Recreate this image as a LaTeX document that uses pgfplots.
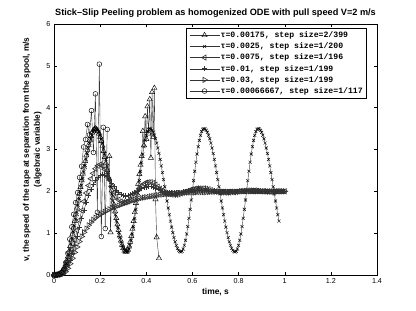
\documentclass[border=0pt]{standalone}
\usepackage{fontspec}
\setmainfont{Liberation Sans}
\setmonofont{Liberation Mono}
\usepackage{pgfplots}
\pgfplotsset{compat=1.18}
\begin{document}
\begin{tikzpicture}
\path[use as bounding box] (-54bp,-36bp) rectangle (362bp,275bp);
\begin{axis}[
  at={(0,0)}, anchor=south west,
  scale only axis, width=323bp, height=251bp,
  xmin=0, xmax=1.4, ymin=0, ymax=6,
  xtick={0,0.2,0.4,0.6,0.8,1,1.2,1.4},
  xticklabels={0,0.2,0.4,0.6,0.8,1,1.2,1.4},
  ytick={0,1,2,3,4,5,6},
  tick align=inside, major tick length=3bp,
  xtick pos=both, ytick pos=both,
  xticklabel pos=bottom, yticklabel pos=left,
  axis line style={line width=0.5pt},
  tick style={line width=0.4pt, black},
  tick label style={font=\fontsize{7.2}{8}\selectfont},
  /pgf/number format/assume math mode=true,
  title={Stick–Slip Peeling problem as homogenized ODE with pull speed V=2 m/s},
  title style={font=\fontsize{9.2}{10}\selectfont\bfseries, yshift=-3bp},
  xlabel={time, s},
  xlabel style={font=\fontsize{8.5}{9}\selectfont\bfseries, yshift=2bp},
  ylabel={v, the speed of the tape at separation from the spool, m/s\\(algebraic variable)},
  ylabel style={font=\fontsize{8.3}{11}\selectfont\bfseries, align=center, yshift=-2bp},
  legend style={at={(rel axis cs:0.409,0.984)}, anchor=north west, draw=black, line width=0.5pt,
    font=\fontsize{8.2}{9}\selectfont\ttfamily\bfseries, row sep=1.2bp,
    nodes={inner sep=0.9pt, text height=6.4pt, text depth=1.8pt}},
  legend cell align=left,
  legend image code/.code={\draw[mark repeat=2,mark phase=2,#1] plot coordinates {(0bp,0bp) (15bp,0bp) (30bp,0bp)};},
  every axis plot/.append style={line width=0.4pt, black!80, mark size=3bp, mark options={solid, line width=0.45pt, black}},
]
% tau=0.00175, triangles
\addplot[mark=triangle] coordinates {
(0,0)(0.005,0)(0.01,0.002)(0.015,0.007)(0.02,0.015)(0.025,0.03)(0.03,0.05)(0.035,0.08)(0.04,0.12)(0.045,0.18)
(0.05,0.25)(0.055,0.34)(0.06,0.44)(0.065,0.56)(0.07,0.69)(0.075,0.83)(0.08,0.98)(0.085,1.13)(0.09,1.29)(0.095,1.45)
(0.1,1.61)(0.105,1.78)(0.11,1.94)(0.115,2.1)(0.12,2.26)(0.125,2.42)(0.13,2.57)(0.135,2.72)(0.14,2.86)(0.145,2.99)
(0.15,3.11)(0.155,3.22)(0.16,3.32)(0.165,3.4)(0.17,3.46)(0.175,3.49)(0.18,3.5)(0.185,3.48)(0.19,3.44)(0.195,3.38)
(0.2,3.3)(0.205,3.2)(0.21,3.09)(0.215,2.96)(0.22,2.82)(0.225,2.67)(0.23,2.51)(0.235,2.35)(0.24,2.84)(0.245,1.02)
(0.25,2.02)(0.255,1.85)(0.26,1.68)(0.265,1.52)(0.27,1.36)(0.275,1.21)(0.28,1.07)(0.285,0.94)(0.29,0.82)(0.295,0.72)
(0.3,0.64)(0.305,0.58)(0.31,0.55)(0.315,0.56)(0.32,0.6)(0.325,0.68)(0.33,0.79)(0.335,0.93)(0.34,1.1)(0.345,1.29)
(0.35,1.5)(0.355,1.72)(0.36,1.95)(0.365,2.18)(0.37,2.41)(0.375,2.63)(0.38,2.84)(0.385,3.44)(0.39,3.1)(0.395,3.79)
(0.4,3.25)(0.405,4.03)(0.41,3.38)(0.415,4.2)(0.42,2.8)(0.425,4.37)(0.43,3.3)(0.435,4.47)(0.44,1.81)(0.445,0.9)(0.455,0.4)};
\addlegendentry{τ=0.00175, step size=2/399}
% tau=0.0025, x marks
\addplot[mark=x, mark size=2.1bp] coordinates {
(0,0)(0.005,0)(0.01,0)(0.015,0.005)(0.02,0.01)(0.025,0.02)(0.03,0.035)(0.035,0.06)(0.04,0.09)(0.045,0.14)
(0.05,0.2)(0.055,0.28)(0.06,0.37)(0.065,0.48)(0.07,0.6)(0.075,0.74)(0.08,0.88)(0.085,1.03)(0.09,1.18)(0.095,1.34)
(0.1,1.5)(0.105,1.67)(0.11,1.83)(0.115,1.99)(0.12,2.15)(0.125,2.31)(0.13,2.47)(0.135,2.62)(0.14,2.77)(0.145,2.9)
(0.15,3.03)(0.155,3.15)(0.16,3.25)(0.165,3.34)(0.17,3.42)(0.175,3.47)
(0.18,3.500)(0.185,3.490)(0.19,3.460)(0.195,3.411)(0.2,3.343)(0.205,3.257)(0.21,3.155)(0.215,3.037)(0.22,2.906)(0.225,2.763)
(0.23,2.609)(0.235,2.448)(0.24,2.281)(0.245,2.111)(0.25,1.939)(0.255,1.769)(0.26,1.602)(0.265,1.441)(0.27,1.288)(0.275,1.144)
(0.28,1.013)(0.285,0.895)(0.29,0.793)(0.295,0.707)(0.3,0.639)(0.305,0.590)(0.31,0.560)(0.315,0.550)(0.32,0.568)(0.325,0.622)
(0.33,0.711)(0.335,0.832)(0.34,0.982)(0.345,1.158)(0.35,1.355)(0.355,1.569)(0.36,1.794)(0.365,2.025)(0.37,2.256)(0.375,2.481)
(0.38,2.695)(0.385,2.892)(0.39,3.068)(0.395,3.218)(0.4,3.339)(0.405,3.428)(0.41,3.482)
(0.415,3.500)(0.42,3.490)(0.425,3.460)(0.43,3.411)(0.435,3.343)(0.44,3.257)(0.445,3.155)(0.45,3.037)(0.455,2.906)(0.46,2.763)
(0.465,2.609)(0.47,2.448)(0.475,2.281)(0.48,2.111)(0.485,1.939)(0.49,1.769)(0.495,1.602)(0.5,1.441)(0.505,1.288)(0.51,1.144)
(0.515,1.013)(0.52,0.895)(0.525,0.793)(0.53,0.707)(0.535,0.639)(0.54,0.590)(0.545,0.560)(0.55,0.550)(0.555,0.568)(0.56,0.622)
(0.565,0.711)(0.57,0.832)(0.575,0.982)(0.58,1.158)(0.585,1.355)(0.59,1.569)(0.595,1.794)(0.6,2.025)(0.605,2.256)(0.61,2.481)
(0.615,2.695)(0.62,2.892)(0.625,3.068)(0.63,3.218)(0.635,3.339)(0.64,3.428)(0.645,3.482)
(0.65,3.500)(0.655,3.490)(0.66,3.460)(0.665,3.411)(0.67,3.343)(0.675,3.257)(0.68,3.155)(0.685,3.037)(0.69,2.906)(0.695,2.763)
(0.7,2.609)(0.705,2.448)(0.71,2.281)(0.715,2.111)(0.72,1.939)(0.725,1.769)(0.73,1.602)(0.735,1.441)(0.74,1.288)(0.745,1.144)
(0.75,1.013)(0.755,0.895)(0.76,0.793)(0.765,0.707)(0.77,0.639)(0.775,0.590)(0.78,0.560)(0.785,0.550)(0.79,0.568)(0.795,0.622)
(0.8,0.711)(0.805,0.832)(0.81,0.982)(0.815,1.158)(0.82,1.355)(0.825,1.569)(0.83,1.794)(0.835,2.025)(0.84,2.256)(0.845,2.481)
(0.85,2.695)(0.855,2.892)(0.86,3.068)(0.865,3.218)(0.87,3.339)(0.875,3.428)(0.88,3.482)
(0.885,3.500)(0.89,3.490)(0.895,3.460)(0.9,3.411)(0.905,3.343)(0.91,3.257)(0.915,3.155)(0.92,3.037)(0.925,2.906)(0.93,2.763)
(0.935,2.609)(0.94,2.448)(0.945,2.281)(0.95,2.111)(0.955,1.939)(0.96,1.769)(0.965,1.602)(0.97,1.441)(0.975,1.288)};
\addlegendentry{τ=0.0025, step size=1/200}
% tau=0.0075, left triangles
\addplot[mark=triangle, mark options={rotate=90, line width=0.6pt}] coordinates {
(0,0)(0.01,0)(0.02,0.01)(0.03,0.03)(0.04,0.07)(0.05,0.15)(0.06,0.27)(0.07,0.43)(0.08,0.62)(0.09,0.84)
(0.1,1.07)(0.11,1.31)(0.12,1.54)(0.13,1.76)(0.14,1.96)(0.15,2.14)(0.16,2.3)(0.17,2.43)(0.18,2.54)(0.19,2.61)
(0.2,2.64)(0.21,2.61)(0.22,2.53)(0.23,2.41)(0.24,2.27)(0.25,2.12)(0.26,1.98)(0.27,1.87)(0.28,1.8)(0.29,1.76)
(0.3,1.74)(0.31,1.74)(0.32,1.76)(0.33,1.8)(0.34,1.86)(0.35,1.93)(0.36,2.0)(0.37,2.07)(0.38,2.13)(0.39,2.18)
(0.4,2.21)(0.41,2.22)(0.42,2.22)(0.43,2.2)(0.44,2.16)(0.45,2.11)(0.46,2.06)(0.47,2.01)(0.48,1.97)(0.49,1.94)
(0.5,1.93)(0.51,1.92)(0.52,1.92)(0.53,1.92)(0.54,1.93)(0.55,1.95)(0.56,1.97)(0.57,1.99)(0.58,2.01)(0.59,2.03)
(0.6,2.05)(0.61,2.06)(0.62,2.07)(0.63,2.07)(0.64,2.07)(0.65,2.07)(0.66,2.06)(0.67,2.05)(0.68,2.03)(0.69,2.01)
(0.7,2.0)(0.71,1.99)(0.72,1.98)(0.73,1.97)(0.74,1.97)(0.75,1.97)(0.76,1.97)(0.77,1.98)(0.78,1.98)(0.79,1.99)
(0.8,2.0)(0.81,2.01)(0.82,2.01)(0.83,2.02)(0.84,2.02)(0.85,2.02)(0.86,2.02)(0.87,2.02)(0.88,2.01)(0.89,2.01)
(0.9,2.0)(0.91,2.0)(0.92,1.99)(0.93,1.99)(0.94,1.99)(0.95,1.99)(0.96,2.0)(0.97,2.0)(0.98,2.0)(0.99,2.0)(1.0,2.0)};
\addlegendentry{τ=0.0075, step size=1/196}
% tau=0.01, plus
\addplot[mark=+, mark size=2.6bp, mark options={line width=0.6pt}] coordinates {
(0,0)(0.01,0)(0.02,0.01)(0.03,0.02)(0.04,0.06)(0.05,0.12)(0.06,0.22)(0.07,0.36)(0.08,0.53)(0.09,0.72)
(0.1,0.93)(0.11,1.14)(0.12,1.35)(0.13,1.55)(0.14,1.73)(0.15,1.9)(0.16,2.04)(0.17,2.16)(0.18,2.26)(0.19,2.33)
(0.2,2.38)(0.21,2.4)(0.22,2.39)(0.23,2.35)(0.24,2.28)(0.25,2.2)(0.26,2.11)(0.27,2.03)(0.28,1.97)(0.29,1.93)
(0.3,1.9)(0.31,1.89)(0.32,1.9)(0.33,1.92)(0.34,1.95)(0.35,1.98)(0.36,2.01)(0.37,2.04)(0.38,2.07)(0.39,2.09)
(0.4,2.1)(0.41,2.11)(0.42,2.11)(0.43,2.1)(0.44,2.08)(0.45,2.06)(0.46,2.03)(0.47,2.01)(0.48,1.99)(0.49,1.97)
(0.5,1.96)(0.51,1.96)(0.52,1.96)(0.53,1.96)(0.54,1.97)(0.55,1.98)(0.56,1.99)(0.57,2.0)(0.58,2.01)(0.59,2.02)
(0.6,2.03)(0.61,2.03)(0.62,2.03)(0.63,2.03)(0.64,2.03)(0.65,2.02)(0.66,2.02)(0.67,2.01)(0.68,2.0)(0.69,2.0)
(0.7,1.99)(0.71,1.99)(0.72,1.99)(0.73,1.99)(0.74,1.99)(0.75,1.99)(0.76,1.99)(0.77,2.0)(0.78,2.0)(0.79,2.0)
(0.8,2.0)(0.81,2.0)(0.82,2.0)(0.83,2.0)(0.84,2.0)(0.85,2.0)(0.86,2.01)(0.87,2.01)(0.88,2.01)(0.89,2.0)
(0.9,2.0)(0.91,2.0)(0.92,2.0)(0.93,2.0)(0.94,2.0)(0.95,2.0)(0.96,2.0)(0.97,2.0)(0.98,2.0)(0.99,2.0)(1.0,2.0)};
\addlegendentry{τ=0.01, step size=1/199}
% tau=0.03, right triangles
\addplot[mark=triangle, mark options={rotate=-90, line width=0.6pt}] coordinates {
(0,0)(0.01,0)(0.02,0)(0.03,0.01)(0.04,0.03)(0.05,0.08)(0.06,0.16)(0.07,0.27)(0.08,0.4)(0.09,0.54)
(0.1,0.67)(0.11,0.8)(0.12,0.92)(0.13,1.02)(0.14,1.11)(0.15,1.19)(0.16,1.26)(0.17,1.32)(0.18,1.37)(0.19,1.41)
(0.2,1.45)(0.21,1.48)(0.22,1.51)(0.23,1.54)(0.24,1.57)(0.25,1.6)(0.26,1.62)(0.27,1.64)(0.28,1.66)(0.29,1.68)
(0.3,1.7)(0.31,1.72)(0.32,1.74)(0.33,1.76)(0.34,1.78)(0.35,1.8)(0.36,1.81)(0.37,1.83)(0.38,1.84)(0.39,1.85)
(0.4,1.86)(0.41,1.87)(0.42,1.88)(0.43,1.89)(0.44,1.9)(0.45,1.91)(0.46,1.92)(0.47,1.92)(0.48,1.93)(0.49,1.93)
(0.5,1.94)(0.51,1.94)(0.52,1.95)(0.53,1.95)(0.54,1.96)(0.55,1.96)(0.56,1.96)(0.57,1.97)(0.58,1.97)(0.59,1.97)
(0.6,1.97)(0.61,1.97)(0.62,1.98)(0.63,1.98)(0.64,1.98)(0.65,1.98)(0.66,1.98)(0.67,1.98)(0.68,1.99)(0.69,1.99)
(0.7,1.99)(0.71,1.99)(0.72,1.99)(0.73,1.99)(0.74,1.99)(0.75,1.99)(0.76,1.99)(0.77,1.99)(0.78,1.99)(0.79,1.99)
(0.8,1.99)(0.81,2.0)(0.82,2.0)(0.83,2.0)(0.84,2.0)(0.85,2.0)(0.86,2.0)(0.87,2.0)(0.88,2.0)(0.89,2.0)
(0.9,2.0)(0.91,2.0)(0.92,2.0)(0.93,2.0)(0.94,2.0)(0.95,2.0)(0.96,2.0)(0.97,2.0)(0.98,2.0)(0.99,2.0)(1.0,2.0)};
\addlegendentry{τ=0.03, step size=1/199}
% tau=0.00066667, circles
\addplot[mark=o, mark size=2.4bp] coordinates {
(0,0)(0.0085,0)(0.0171,0.005)(0.0256,0.02)(0.0342,0.06)(0.0427,0.14)(0.0513,0.3)(0.0598,0.52)(0.0684,0.86)(0.0769,1.15)
(0.0855,1.45)(0.094,1.73)(0.1026,1.97)(0.1111,2.33)(0.1197,2.6)(0.1282,3.06)(0.1368,3.24)(0.1453,3.6)(0.1538,3.35)(0.1624,3.93)
(0.1709,2.93)(0.1795,4.33)(0.188,1.5)(0.1966,5.04)(0.2051,0.92)(0.2137,3.53)(0.2222,1.11)(0.2308,3.48)};
\addlegendentry{τ=0.00066667, step size=1/117}
\end{axis}
\end{tikzpicture}
\end{document}
